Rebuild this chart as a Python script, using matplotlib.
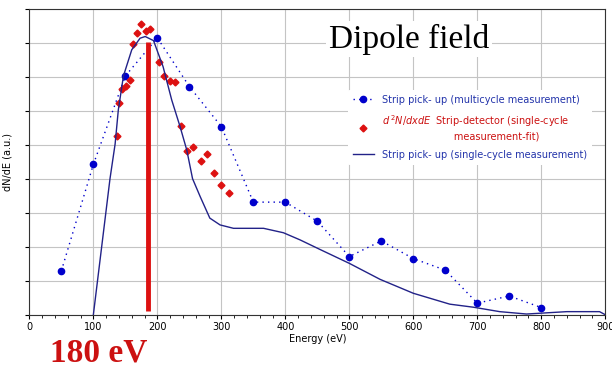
import matplotlib.pyplot as plt

# Strip pick-up (multicycle measurement)
multi_e = [50, 100, 150, 200, 250, 300, 350, 400, 450, 500, 550, 600, 650, 700, 750, 800]
multi_n = [1.29, 4.42, 7.02, 8.14, 6.71, 5.53, 3.31, 3.31, 2.75, 1.71, 2.17, 1.65, 1.31, 0.34, 0.55, 0.21]

# d2N/dxdE strip-detector (single-cycle measurement-fit)
fit_e = [136.5, 140, 145, 151, 157, 161.5, 168, 174, 182, 189, 203, 210, 220, 227,
         236.5, 246, 255, 268, 277.6, 288.6, 300, 312]
fit_n = [5.26, 6.22, 6.63, 6.73, 6.9, 7.95, 8.29, 8.55, 8.35, 8.41, 7.43, 7.02, 6.88, 6.84,
         5.56, 4.8, 4.94, 4.52, 4.74, 4.17, 3.81, 3.57]

# Strip pick-up (single-cycle measurement)
single_e = [100, 126, 134, 139, 147, 160, 173, 181, 194, 209, 222.5, 235.5, 246, 255, 267,
            282, 298, 319, 329, 366, 397, 423, 454, 500, 548, 600, 657, 694, 735, 777,
            840, 891, 900]
single_n = [0.0, 4.0, 5.02, 6.02, 7.02, 7.79, 8.13, 8.18, 8.06, 7.29, 6.31, 5.53, 4.84, 4.0, 3.47,
            2.84, 2.64, 2.54, 2.54, 2.54, 2.41, 2.2, 1.92, 1.51, 1.04, 0.63, 0.31, 0.22, 0.09, 0.02,
            0.09, 0.09, 0.0]

peak_e = 185
peak_top = 8.03

fig = plt.figure(figsize=(6.12, 3.67), dpi=100)
ax = fig.add_axes([0.048, 0.1425, 0.941, 0.834])

ax.plot(multi_e, multi_n, color="#0000cc", linestyle=(0, (1, 3)), linewidth=1.0,
        marker="o", markersize=4.5, label="Strip pick- up (multicycle measurement)")
ax.plot(fit_e, fit_n, color="#dd1111", linestyle="none", marker="D", markersize=3.5,
        label=r"$d^{\,2}N/dxdE$  Strip-detector (single-cycle" + "\n" + "                       measurement-fit)")
ax.plot(single_e, single_n, color="#222288", linewidth=1.0,
        label="Strip pick- up (single-cycle measurement)")
ax.vlines(peak_e, 0.1, peak_top, color="#dd1111", linewidth=3.5)

ax.set_xlim(0, 900)
ax.set_ylim(0, 9)
ax.set_xticks(range(0, 901, 100))
ax.set_xticks(range(0, 901, 20), minor=True)
ax.set_yticks(range(0, 10))
ax.set_yticklabels([])
ax.tick_params(axis="x", labelsize=7, length=3, pad=2)
ax.tick_params(axis="x", which="minor", length=2)
ax.tick_params(axis="y", length=3)
ax.grid(True, color="#c4c4c4", linewidth=0.8)
ax.set_axisbelow(True)
ax.set_xlabel("Energy (eV)", fontsize=7, labelpad=2)
ax.set_ylabel("dN/dE (a.u.)", fontsize=7, labelpad=6)
for s in ax.spines.values():
    s.set_color("#333333")

ax.text(0.52, 0.9, "Dipole field", transform=ax.transAxes, fontsize=24,
        family="Liberation Serif", ha="left", va="center",
        bbox=dict(facecolor="white", edgecolor="none", pad=2))

leg = ax.legend(loc="upper right", bbox_to_anchor=(0.985, 0.75), fontsize=7,
                frameon=True, framealpha=1.0, edgecolor="none", handlelength=2.2,
                handletextpad=0.8, labelspacing=0.9, borderpad=0.5, numpoints=1)
for t, c in zip(leg.get_texts(), ["#2233aa", "#cc1111", "#2233aa"]):
    t.set_color(c)

fig.text(0.082, 0.015, "180 eV", fontsize=24, fontweight="bold", color="#cc1111",
         family="Liberation Serif")

fig.savefig("out.png", dpi=100)
